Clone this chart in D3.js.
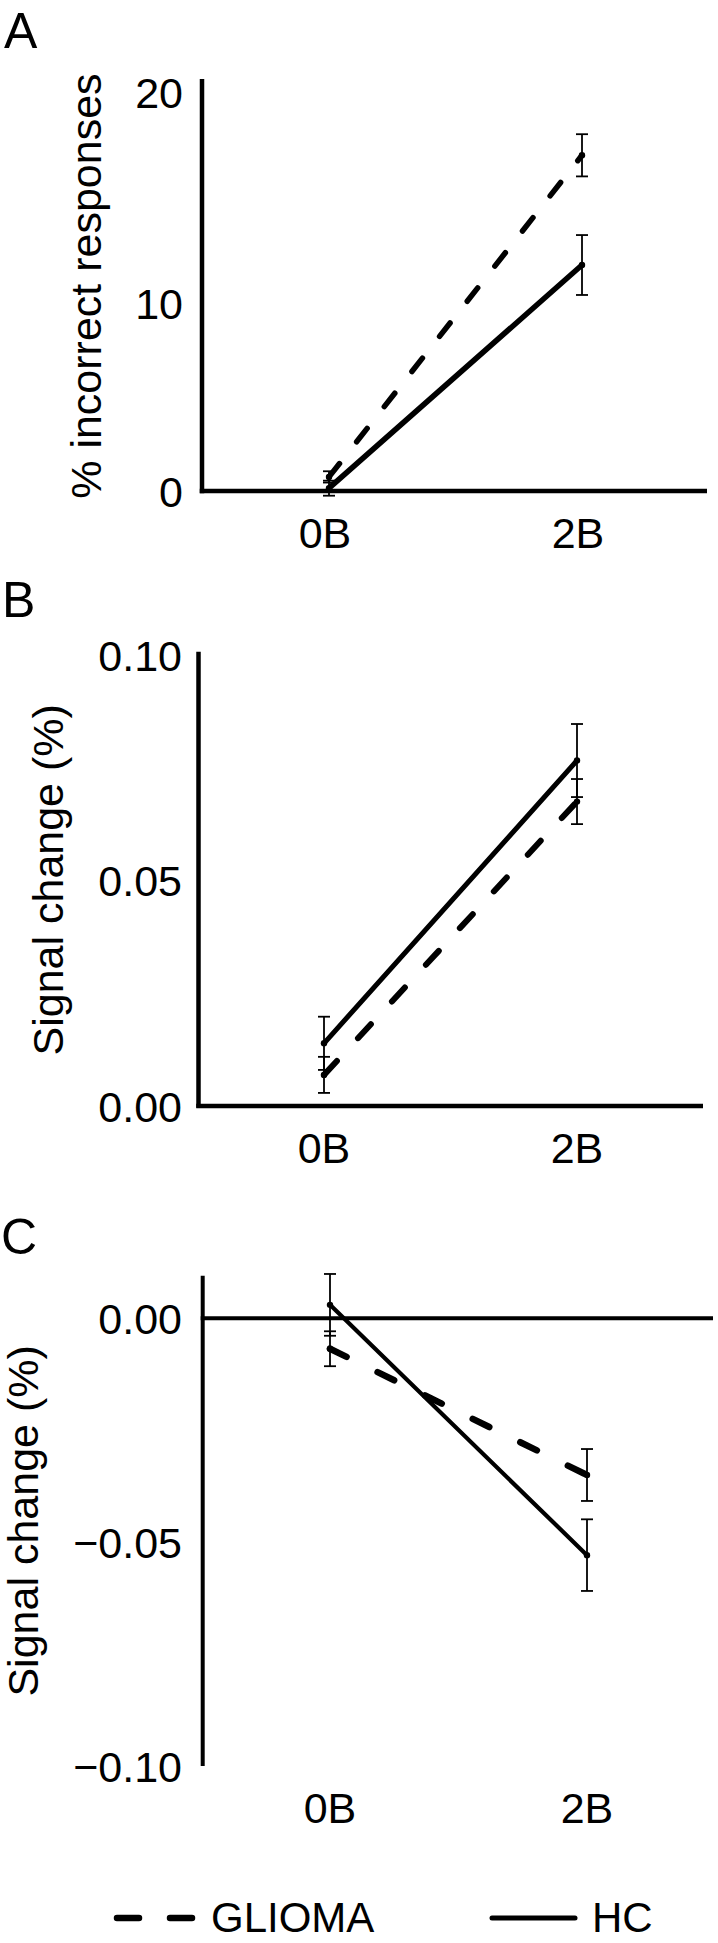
<!DOCTYPE html>
<html>
<head>
<meta charset="utf-8">
<script src="https://cdn.jsdelivr.net/npm/d3@7"></script>
<style>
  html, body { margin: 0; padding: 0; background: #fff; }
  svg { display: block; }
</style>
</head>
<body>
<script>
// ---------------- DATA ----------------
const categories = ["0B", "2B"];
const panelLetters = ["A", "B", "C"];
const yTitles = ["% incorrect responses", "Signal change (%)", "Signal change (%)"];
const legendLabels = ["GLIOMA", "HC"];

const ticksA = [0, 10, 20];
const ticksB = [0, 0.05, 0.10];
const ticksC = [-0.10, -0.05, 0];

// Panel A: % incorrect responses
const gliomaA = [0.75, 17.0];
const gliomaAErr = [0.3, 1.0];
const hcA = [0.15, 11.8];
const hcAErr = [0.4, 1.42];

// Panel B: signal change (%)
const gliomaB = [0.0069, 0.0675];
const gliomaBErr = [0.0040, 0.0050];
const hcB = [0.0139, 0.0766];
const hcBErr = [0.0059, 0.0081];

// Panel C: signal change (%)
const gliomaC = [-0.0068, -0.0350];
const gliomaCErr = [0.0039, 0.0058];
const hcC = [0.0030, -0.0529];
const hcCErr = [0.0069, 0.0080];

// ---------------- LAYOUT ----------------
const W = 718, H = 1943;
const FONT = "'Liberation Sans', Arial, Helvetica, sans-serif";

const svg = d3.select("body").append("svg")
  .attr("width", W).attr("height", H)
  .attr("font-family", FONT);

svg.append("rect").attr("width", W).attr("height", H).attr("fill", "#fff");

const panels = [
  {
    letter: panelLetters[0], letterPos: [4, 48],
    title: yTitles[0], titleX: 101,
    ticks: ticksA, fmt: d3.format("d"),
    y: d3.scaleLinear().domain([0, 10, 20]).range([491, 303, 92]),
    axisTop: 20.62, axisBottom: -0.12,
    x: d3.scalePoint().domain(categories).range([329, 582]),
    axisX: 202, xAxisAt: 0, xAxisEnd: 707, labelPad: 19, xLabelShift: -4,
    xLabelBase: 548,
    glioma: gliomaA, gliomaErr: gliomaAErr, hc: hcA, hcErr: hcAErr,
    solidW: 5.5, dashW: 5.5, dash: "17,27.7", axisW: 4.5
  },
  {
    letter: panelLetters[1], letterPos: [2, 617],
    title: yTitles[1], titleX: 63,
    ticks: ticksB, fmt: d3.format(".2f"),
    y: d3.scaleLinear().domain([0, 0.10]).range([1106, 655]),
    axisTop: 0.1007, axisBottom: -0.0004,
    x: d3.scalePoint().domain(categories).range([324, 577]),
    axisX: 198.5, xAxisAt: 0, xAxisEnd: 703, labelPad: 16.5, xLabelShift: 0,
    xLabelBase: 1163,
    glioma: gliomaB, gliomaErr: gliomaBErr, hc: hcB, hcErr: hcBErr,
    solidW: 5, dashW: 6, dash: "19,31", axisW: 4.5
  },
  {
    letter: panelLetters[2], letterPos: [1, 1254],
    title: yTitles[2], titleX: 38,
    ticks: ticksC, fmt: d3.format(".2f"),
    y: d3.scaleLinear().domain([-0.10, 0]).range([1766, 1318.3]),
    axisTop: 0.0095, axisBottom: -0.10,
    x: d3.scalePoint().domain(categories).range([330, 587]),
    axisX: 202.7, xAxisAt: 0, xAxisEnd: 713, labelPad: 20.7, xLabelShift: 0,
    xLabelBase: 1823,
    glioma: gliomaC, gliomaErr: gliomaCErr, hc: hcC, hcErr: hcCErr,
    solidW: 4.2, dashW: 6.5, dash: "18.5,34.5", axisW: 4
  }
];

panels.forEach(p => {
  const g = svg.append("g");

  // panel letter
  g.append("text")
    .attr("x", p.letterPos[0]).attr("y", p.letterPos[1])
    .attr("font-size", 50).attr("fill", "#000")
    .text(p.letter);

  // y title
  const yMid = (p.y(p.axisTop) + p.y(p.axisBottom)) / 2;
  g.append("text")
    .attr("transform", `translate(${p.titleX},${yMid}) rotate(-90)`)
    .attr("text-anchor", "middle")
    .attr("font-size", 43).attr("fill", "#000")
    .text(p.title);

  // y tick labels via d3 axis
  const ya = g.append("g")
    .attr("transform", `translate(${p.axisX},0)`)
    .call(d3.axisLeft(p.y).tickValues(p.ticks).tickFormat(p.fmt)
      .tickSize(0).tickPadding(p.labelPad));
  ya.select(".domain").remove();
  ya.attr("font-size", 43).attr("font-family", FONT);
  ya.selectAll("text").attr("fill", "#000").attr("dy", "0.36em");

  // axis lines
  g.append("line")
    .attr("x1", p.axisX).attr("x2", p.axisX)
    .attr("y1", p.y(p.axisTop)).attr("y2", p.y(p.axisBottom))
    .attr("stroke", "#000").attr("stroke-width", p.axisW);
  g.append("line")
    .attr("x1", p.axisX - p.axisW / 2).attr("x2", p.xAxisEnd)
    .attr("y1", p.y(p.xAxisAt)).attr("y2", p.y(p.xAxisAt))
    .attr("stroke", "#000").attr("stroke-width", p.axisW);

  // x labels
  g.selectAll("text.xl").data(categories).enter().append("text")
    .attr("class", "xl")
    .attr("x", d => p.x(d) + p.xLabelShift)
    .attr("y", p.xLabelBase)
    .attr("text-anchor", "middle")
    .attr("font-size", 43).attr("fill", "#000")
    .text(d => d);

  const line = d3.line().x(d => p.x(d.c)).y(d => p.y(d.v));
  const series = [
    { vals: p.glioma, err: p.gliomaErr, dashed: true },
    { vals: p.hc, err: p.hcErr, dashed: false }
  ];

  series.forEach(s => {
    const pts = categories.map((c, i) => ({ c, v: s.vals[i], e: s.err[i] }));
    g.append("path")
      .datum(pts)
      .attr("d", line)
      .attr("fill", "none")
      .attr("stroke", "#000")
      .attr("stroke-width", s.dashed ? p.dashW : p.solidW)
      .attr("stroke-linecap", "round")
      .attr("stroke-dasharray", s.dashed ? p.dash : null);

    // error bars
    const eb = g.append("g").attr("stroke", "#000").attr("stroke-width", 1.8);
    pts.forEach(d => {
      const x = p.x(d.c);
      eb.append("line").attr("x1", x).attr("x2", x)
        .attr("y1", p.y(d.v + d.e)).attr("y2", p.y(d.v - d.e));
      [d.v + d.e, d.v - d.e].forEach(v => {
        eb.append("line").attr("x1", x - 6).attr("x2", x + 6)
          .attr("y1", p.y(v)).attr("y2", p.y(v));
      });
    });

    g.selectAll(null).data(pts).enter().append("circle")
      .attr("cx", d => p.x(d.c)).attr("cy", d => p.y(d.v))
      .attr("r", 3.2).attr("fill", "#000");
  });
});

// ---------------- LEGEND ----------------
const leg = svg.append("g");
const legY = 1918;
const legBase = 1932;
leg.append("line")
  .attr("x1", 117).attr("x2", 192).attr("y1", legY).attr("y2", legY)
  .attr("stroke", "#000").attr("stroke-width", 6.5)
  .attr("stroke-linecap", "round").attr("stroke-dasharray", "22,31");
leg.append("text").attr("x", 211).attr("y", legBase)
  .attr("font-size", 42).attr("fill", "#000").text(legendLabels[0]);
leg.append("line")
  .attr("x1", 492).attr("x2", 575).attr("y1", legY).attr("y2", legY)
  .attr("stroke", "#000").attr("stroke-width", 5)
  .attr("stroke-linecap", "round");
leg.append("text").attr("x", 592).attr("y", legBase)
  .attr("font-size", 42).attr("fill", "#000").text(legendLabels[1]);
</script>
</body>
</html>
